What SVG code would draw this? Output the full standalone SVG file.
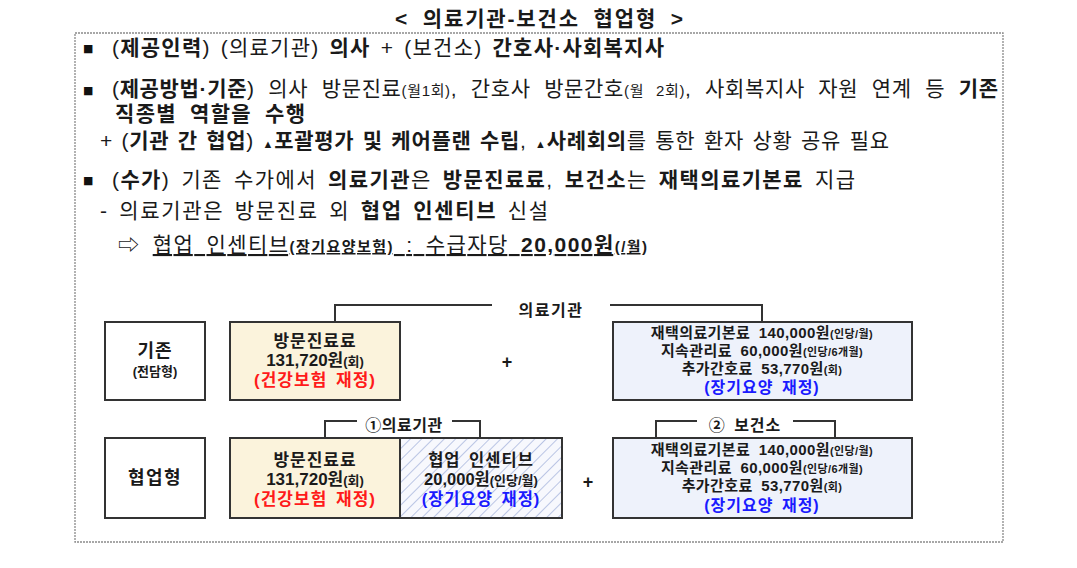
<svg xmlns="http://www.w3.org/2000/svg" width="1077" height="568" viewBox="0 0 1077 568">
<defs>
<style>
.t{font-family:"Liberation Sans","Noto Sans CJK KR",sans-serif;font-size:21px;fill:#1a1a1a}
.d{font-family:"Liberation Sans","Noto Sans CJK KR",sans-serif;fill:#1a1a1a;font-weight:bold;text-anchor:middle}
.b{font-weight:bold}
.s{font-size:15px}
.bul{font-family:"DejaVu Sans",sans-serif;font-size:11px;fill:#111}
.box{stroke:#333;stroke-width:2}
.conn{fill:none;stroke:#333;stroke-width:2}
.red{fill:#ff1a1a}
.blue{fill:#1a1aff}
.sm{font-size:11px}
.sm2{font-size:13px}
.ls1{letter-spacing:1px}
.r{font-size:15px;letter-spacing:0.4px;word-spacing:4px}
</style>
<pattern id="hatch" width="8" height="8" patternUnits="userSpaceOnUse" patternTransform="rotate(45)">
<rect width="8" height="8" fill="#f7f8fd"/>
<line x1="0" y1="0" x2="0" y2="8" stroke="#b3bfe2" stroke-width="1.8"/>
</pattern>
</defs>
<rect width="1077" height="568" fill="#ffffff"/>

<g id="title">
<text class="t b" x="395" y="26" textLength="288" lengthAdjust="spacing" word-spacing="6">&lt; 의료기관-보건소 협업형 &gt;</text>
</g>

<g id="frame">
<rect x="75" y="33" width="928" height="509" fill="none" stroke="#8a8a8a" stroke-width="1.3" stroke-dasharray="2 1"/>
</g>

<g id="bullets">
<text class="bul" x="83" y="52">■</text>
<text class="t" x="112" y="55" textLength="552" lengthAdjust="spacing" word-spacing="3">(<tspan class="b">제공인력</tspan>) (의료기관) <tspan class="b">의사</tspan> + (보건소) <tspan class="b">간호사·사회복지사</tspan></text>

<text class="bul" x="83" y="94">■</text>
<text class="t" x="112" y="96" textLength="886" lengthAdjust="spacing" word-spacing="7">(<tspan class="b">제공방법·기준</tspan>) 의사 방문진료<tspan class="s">(월1회)</tspan>, 간호사 방문간호<tspan class="s">(월 2회)</tspan>, 사회복지사 자원 연계 등 <tspan class="b">기존</tspan></text>
<text class="t b" x="115" y="121" textLength="190" lengthAdjust="spacing" word-spacing="6">직종별 역할을 수행</text>
<text class="t" x="100" y="148" textLength="789" lengthAdjust="spacing" word-spacing="2">+ (<tspan class="b">기관 간 협업</tspan>) <tspan class="sm">▲</tspan><tspan class="b">포괄평가 및 케어플랜 수립</tspan>, <tspan class="sm">▲</tspan><tspan class="b">사례회의</tspan>를 통한 환자 상황 공유 필요</text>

<text class="bul" x="83" y="184">■</text>
<text class="t" x="112" y="187" textLength="743" lengthAdjust="spacing" word-spacing="4">(<tspan class="b">수가</tspan>) 기존 수가에서 <tspan class="b">의료기관</tspan>은 <tspan class="b">방문진료료</tspan>, <tspan class="b">보건소</tspan>는 <tspan class="b">재택의료기본료</tspan> 지급</text>
<text class="t" x="100" y="218" textLength="448" lengthAdjust="spacing" word-spacing="3">- 의료기관은 방문진료 외 <tspan class="b">협업 인센티브</tspan> 신설</text>
<text class="t" x="118" y="252" textLength="529" lengthAdjust="spacing" word-spacing="5">⇨ <tspan text-decoration="underline">협업 인센티브<tspan class="b s">(장기요양보험)</tspan> : 수급자당 <tspan class="b">20,000원</tspan><tspan class="b s">(/월)</tspan></tspan></text>
</g>

<g id="connectors">
<polyline class="conn" points="335,322 335,305 492,305"/>
<polyline class="conn" points="610,305 762,305 762,322"/>
<polyline class="conn" points="325,438 325,421 357,421"/>
<polyline class="conn" points="452,421 480,421 480,438"/>
<polyline class="conn" points="656,438 656,421 697,421"/>
<polyline class="conn" points="793,421 835,421 835,438"/>
</g>

<g id="label-medical-1">
<text class="d" x="551" y="316" font-size="16" letter-spacing="1.5">의료기관</text>
</g>
<g id="label-medical-2">
<text class="d" x="404" y="431" font-size="16" letter-spacing="0.5">①의료기관</text>
</g>
<g id="label-health-center">
<text class="d" x="745" y="431" font-size="16" letter-spacing="1" word-spacing="3">② 보건소</text>
</g>

<g id="node-existing">
<rect class="box" x="105" y="322" width="100" height="78" fill="#ffffff"/>
<text class="d" x="155" y="357" font-size="18" letter-spacing="1">기존</text>
<text class="d" x="155" y="376" font-size="13" fill="#333">(전담형)</text>
</g>

<g id="node-visit-fee-1">
<rect class="box" x="230" y="322" width="170" height="78" fill="#fbf3dc"/>
<text class="d ls1" x="315" y="347" font-size="17">방문진료료</text>
<text class="d" x="315" y="366" font-size="17">131,720원<tspan class="sm2">(회)</tspan></text>
<text class="d red ls1" x="315" y="386" font-size="17" word-spacing="3">(건강보험 재정)</text>
</g>

<g id="plus-1">
<text class="d" x="507" y="368" font-size="18">+</text>
</g>

<g id="node-home-fee-1">
<rect class="box" x="613" y="322" width="299" height="78" fill="#eef2fb"/>
<text class="d r" x="762" y="338">재택의료기본료 140,000원<tspan class="sm">(인당/월)</tspan></text>
<text class="d r" x="762" y="356">지속관리료 60,000원<tspan class="sm">(인당/6개월)</tspan></text>
<text class="d r" x="762" y="374">추가간호료 53,770원<tspan class="sm">(회)</tspan></text>
<text class="d blue ls1" x="762" y="393" font-size="16" word-spacing="3">(장기요양 재정)</text>
</g>

<g id="node-collab">
<rect class="box" x="105" y="438" width="100" height="80" fill="#ffffff"/>
<text class="d" x="155" y="484" font-size="18" letter-spacing="1.5">협업형</text>
</g>

<g id="node-visit-fee-2">
<rect class="box" x="230" y="438" width="170" height="80" fill="#fbf3dc"/>
<text class="d ls1" x="315" y="466" font-size="17">방문진료료</text>
<text class="d" x="315" y="485" font-size="17">131,720원<tspan class="sm2">(회)</tspan></text>
<text class="d red ls1" x="315" y="505" font-size="17" word-spacing="3">(건강보험 재정)</text>
</g>

<g id="node-incentive">
<rect class="box" x="400" y="438" width="162" height="80" fill="url(#hatch)"/>
<text class="d ls1" x="481" y="466" font-size="16.5" word-spacing="3">협업 인센티브</text>
<text class="d" x="481" y="485" font-size="16.5">20,000원<tspan class="sm2">(인당/월)</tspan></text>
<text class="d blue ls1" x="481" y="505" font-size="16.5" word-spacing="3">(장기요양 재정)</text>
</g>

<g id="plus-2">
<text class="d" x="588" y="488" font-size="18">+</text>
</g>

<g id="node-home-fee-2">
<rect class="box" x="613" y="438" width="299" height="80" fill="#eef2fb"/>
<text class="d r" x="762" y="455">재택의료기본료 140,000원<tspan class="sm">(인당/월)</tspan></text>
<text class="d r" x="762" y="473">지속관리료 60,000원<tspan class="sm">(인당/6개월)</tspan></text>
<text class="d r" x="762" y="491">추가간호료 53,770원<tspan class="sm">(회)</tspan></text>
<text class="d blue ls1" x="762" y="511" font-size="16" word-spacing="3">(장기요양 재정)</text>
</g>
</svg>
